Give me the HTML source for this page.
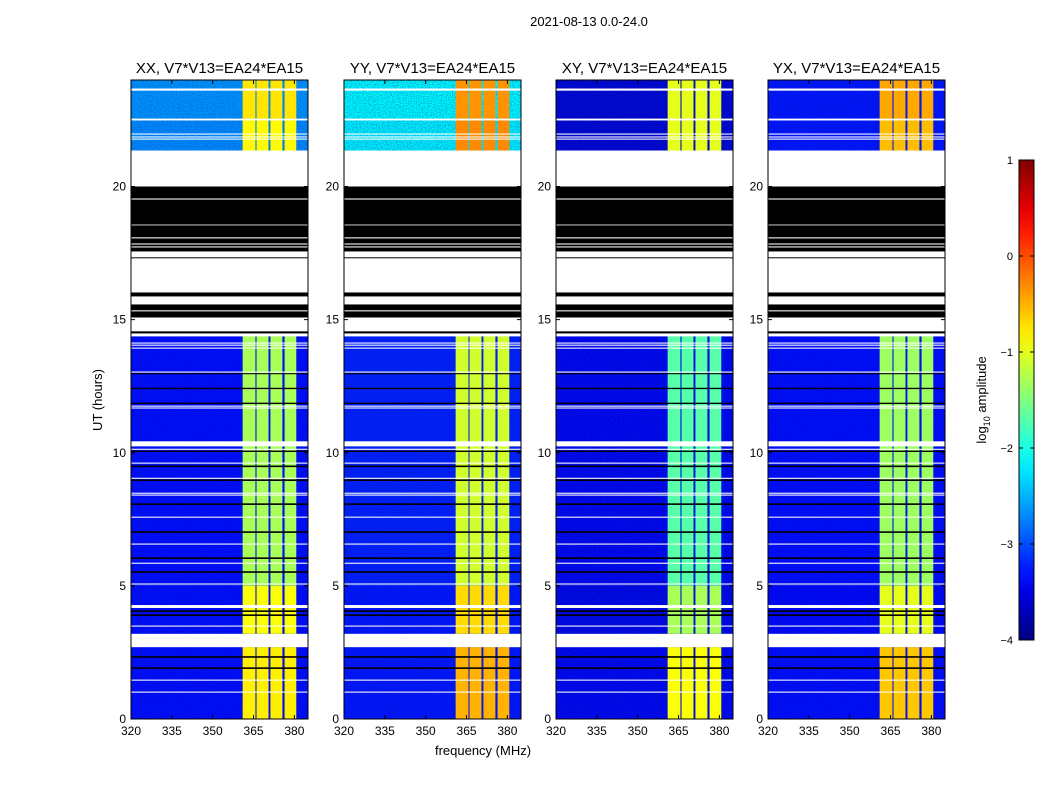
<!DOCTYPE html>
<html><head><meta charset="utf-8"><style>
html,body{margin:0;padding:0;background:#fff}
svg text{font-family:"Liberation Sans","DejaVu Sans",sans-serif}
</style></head><body>
<svg id="fig" width="1050" height="800" viewBox="0 0 1050 800" xmlns="http://www.w3.org/2000/svg">
<defs>
<filter id="noise" x="0" y="0" width="100%" height="100%">
<feTurbulence type="fractalNoise" baseFrequency="0.8 0.9" numOctaves="1" seed="7"/>
<feColorMatrix type="matrix" values="0 0 0 0 0  0 0 0 0 0.05  0 0 0 0 0.35  0 0 0 -2.2 1.35"/>
</filter>
<linearGradient id="jetgrad" x1="0" y1="1" x2="0" y2="0"></linearGradient>
</defs>
<text x="589" y="26" font-size="13" text-anchor="middle">2021-08-13 0.0-24.0</text>
<text x="483" y="755" font-size="13" text-anchor="middle">frequency (MHz)</text>
<text transform="translate(102,400) rotate(-90)" font-size="13" text-anchor="middle">UT (hours)</text>
<g id="panels"></g>
<g id="cbar"></g>
</svg>
<script>
// ---- data ----
const panelTitles = ["XX, V7*V13=EA24*EA15","YY, V7*V13=EA24*EA15","XY, V7*V13=EA24*EA15","YX, V7*V13=EA24*EA15"];
const xTicks = [320,335,350,365,380];
const yTicks = [0,5,10,15,20];
const cbarTicks = [1,0,-1,-2,-3,-4];
// time regions with data [start, end]
const regionBounds = [[22.55,24.0],[21.35,22.55],[5.0,14.4],[3.2,5.0],[0,2.7]];
// background log10 amplitude per panel per region
const bgLevels = [
  [-2.65,-2.7,-3.35,-3.35,-3.35],
  [-2.15,-2.2,-3.25,-3.3,-3.3],
  [-3.6,-3.6,-3.45,-3.5,-3.45],
  [-3.3,-3.3,-3.35,-3.4,-3.35]
];
// band (channel) log10 amplitude per panel per region
const bandLevels = [
  [-0.75,-0.85,-1.3,-0.9,-0.8],
  [-0.35,-0.3,-1.1,-0.7,-0.5],
  [-1.0,-1.0,-1.7,-1.3,-0.9],
  [-0.45,-0.55,-1.35,-1.0,-0.6]
];
// channel frequency ranges (MHz)
const bandLo = [361.0,366.1,371.2,376.4];
const bandHi = [365.7,370.5,375.6,380.7];
// flagged rows: [start hour, end hour, kind] w=white(blank) k=black
const gaps = [
 [23.60,23.68,'w'],[22.48,22.55,'w'],[21.95,21.99,'w'],[21.84,21.88,'w'],[21.76,21.80,'w'],
 [20.04,21.35,'w'],[19.55,20.00,'k'],[18.57,19.51,'k'],[18.09,18.54,'k'],[17.86,18.05,'k'],
 [17.75,17.82,'k'],[17.56,17.71,'k'],[17.30,17.34,'k'],[16.02,17.30,'w'],[15.87,16.02,'k'],
 [15.57,15.87,'w'],[15.35,15.57,'k'],[15.08,15.31,'k'],[14.71,15.08,'w'],[14.56,14.63,'w'],
 [14.48,14.56,'k'],[14.37,14.48,'w'],
 [14.10,14.14,'w'],[14.02,14.06,'w'],[13.91,13.95,'w'],[13.01,13.05,'w'],[12.95,12.99,'k'],
 [12.39,12.44,'k'],[11.83,11.88,'k'],[11.73,11.77,'w'],[11.66,11.70,'w'],
 [10.24,10.43,'w'],[10.11,10.15,'w'],[10.03,10.08,'k'],[9.59,9.63,'w'],[9.46,9.52,'k'],
 [9.02,9.06,'w'],[8.94,9.00,'k'],[8.46,8.50,'w'],[8.39,8.43,'w'],[8.04,8.10,'k'],
 [7.56,7.60,'w'],[6.99,7.05,'k'],[6.55,6.59,'w'],[6.01,6.07,'k'],[5.83,5.87,'w'],
 [5.49,5.55,'k'],[5.05,5.09,'w'],[4.17,4.28,'w'],[4.02,4.08,'k'],[3.87,3.93,'k'],
 [3.47,3.51,'w'],[2.70,3.19,'w'],[2.30,2.36,'k'],[1.88,1.94,'k'],[1.44,1.48,'w'],[0.99,1.03,'w']
];
// ---- helpers ----
function jet(v){ // v: log10 amplitude -4..1
  let t=(v+4)/5; t=Math.max(0,Math.min(1,t));
  const f=(x)=>Math.max(0,Math.min(1,x));
  const r=f(1.5-Math.abs(4*t-3)), g=f(1.5-Math.abs(4*t-2)), b=f(1.5-Math.abs(4*t-1));
  return `rgb(${Math.round(r*255)},${Math.round(g*255)},${Math.round(b*255)})`;
}
const NS="http://www.w3.org/2000/svg";
function mk(tag,attrs,parent){const e=document.createElementNS(NS,tag);for(const k in attrs)e.setAttribute(k,attrs[k]);parent.appendChild(e);return e;}
const panelLeft=[131,344,556,768], PW=177, PT=80, PB=719;
const FMIN=320,FMAX=385,HMIN=0,HMAX=24;
const panels=document.getElementById('panels');
panelTitles.forEach((title,p)=>{
  const L=panelLeft[p];
  const xs=f=>L+(f-FMIN)/(FMAX-FMIN)*PW;
  const ys=h=>PB-(h-HMIN)/(HMAX-HMIN)*(PB-PT);
  const g=mk('g',{},panels);
  
  
  mk('rect',{x:L,y:PT,width:PW,height:PB-PT,fill:'#fff'},g);
  regionBounds.forEach((rb,r)=>{
    const y0=ys(rb[1]), y1=ys(rb[0]);
    const bg=mk('rect',{x:L,y:y0,width:PW,height:y1-y0,fill:jet(bgLevels[p][r])},g);
    
    
    mk('rect',{x:L,y:y0,width:PW,height:y1-y0,fill:'#000',filter:'url(#noise)',opacity:0.55},g);
    bandLo.forEach((lo,b)=>{
      const br=mk('rect',{x:xs(lo),y:y0,width:xs(bandHi[b])-xs(lo),height:y1-y0,fill:jet(bandLevels[p][r])},g);
      
      
    });
  });
  gaps.forEach(gp=>{
    const y0=ys(gp[1]), y1=ys(gp[0]);
    const gr=mk('rect',{x:L,y:y0,width:PW,height:Math.max(1,y1-y0),fill:gp[2]==='w'?'#fff':'#000'},g);
    
    
  });
  mk('rect',{x:L,y:PT,width:PW,height:PB-PT,fill:'none',stroke:'#000','stroke-width':1},g);
  xTicks.forEach(t=>{
    const x=xs(t);
    mk('line',{x1:x,x2:x,y1:PB,y2:PB-4,stroke:'#000'},g);
    mk('line',{x1:x,x2:x,y1:PT,y2:PT+4,stroke:'#000'},g);
    const tx=mk('text',{x:x,y:PB+16,'font-size':12,'text-anchor':'middle'},g);
    tx.textContent=t;
    
    
  });
  yTicks.forEach(t=>{
    const y=ys(t);
    mk('line',{x1:L,x2:L+4,y1:y,y2:y,stroke:'#000'},g);
    mk('line',{x1:L+PW,x2:L+PW-4,y1:y,y2:y,stroke:'#000'},g);
    const tx=mk('text',{x:L-5,y:y+4,'font-size':12,'text-anchor':'end'},g);
    tx.textContent=t;
    
    
  });
  const tt=mk('text',{x:L+PW/2,y:73,'font-size':15,'text-anchor':'middle'},g);
  tt.textContent=title;
  
  
});
// colorbar
const grad=document.getElementById('jetgrad');
for(let i=0;i<=20;i++){mk('stop',{offset:(i/20),'stop-color':jet(-4+5*i/20)},grad);}
const cb=document.getElementById('cbar');
const CX=1019,CW=15,CT=160,CBm=640;
const cys=v=>CBm-(v+4)/5*(CBm-CT);
mk('rect',{x:CX,y:CT,width:CW,height:CBm-CT,fill:'url(#jetgrad)',stroke:'#000'},cb);
cbarTicks.forEach(t=>{
  const y=cys(t);
  mk('line',{x1:CX,x2:CX+4,y1:y,y2:y,stroke:'#000'},cb);
  mk('line',{x1:CX+CW,x2:CX+CW-4,y1:y,y2:y,stroke:'#000'},cb);
  const tx=mk('text',{x:CX-6,y:y+4,'font-size':11,'text-anchor':'end'},cb);
  tx.textContent=(t<0?'\u2212'+(-t):t);
  
  
});
const cl=mk('text',{transform:'translate(986,400) rotate(-90)','font-size':13,'text-anchor':'middle'},cb);
cl.innerHTML='log<tspan font-size="9" dy="4">10</tspan><tspan dy="-4"> amplitude</tspan>';


</script>
</body></html>
